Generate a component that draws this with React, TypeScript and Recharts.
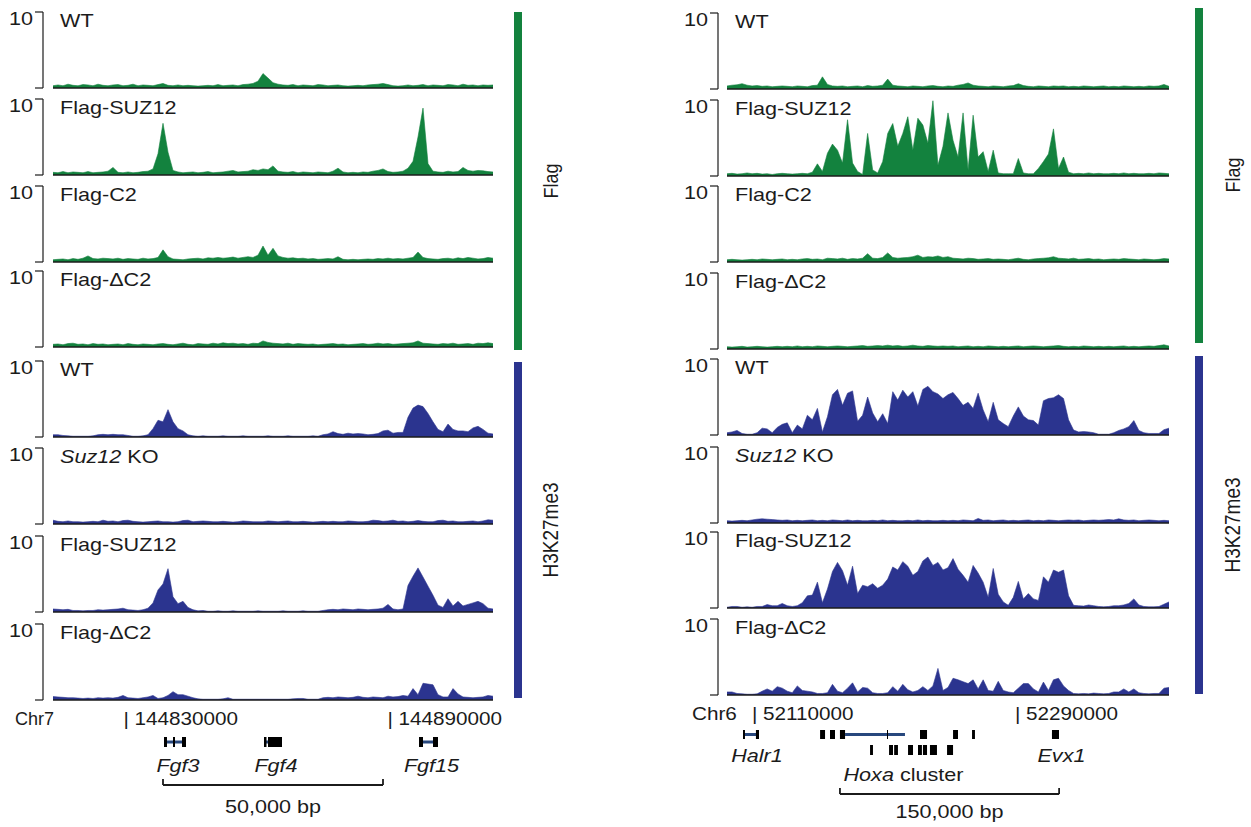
import React from "react";
import { AreaChart, Area, ComposedChart, XAxis, YAxis, ReferenceLine, ReferenceArea } from "recharts";

const GREEN = "#13823e";
const BLUE = "#2b348f";
const GENE_BLUE = "#27477d";
const INK = "#1b1b1b";
const FONT = '"Liberation Sans", Arial, Helvetica, sans-serif';
const STRETCH = 1.2;

// ChIP-seq signal per bin, scale 0-10. Fgf3/Fgf4/Fgf15 locus (Chr7)
const fgfFlagWT = [
  0.3, 0.4, 0.3, 0.5, 0.35, 0.3, 0.45, 0.4, 0.3, 0.5, 0.35,
  0.3, 0.4, 0.45, 0.3, 0.35, 0.5, 0.3, 0.4, 0.35, 0.3, 0.45,
  0.6, 0.35, 0.3, 0.4, 0.3, 0.35, 0.3, 0.25, 0.3, 0.35, 0.3,
  0.45, 0.3, 0.35, 0.4, 0.3, 0.45, 0.5, 0.6, 0.9, 1.9, 1.3,
  0.7, 0.5, 0.4, 0.35, 0.45, 0.3, 0.4, 0.35, 0.3, 0.45, 0.4,
  0.3, 0.35, 0.4, 0.3, 0.25, 0.3, 0.35, 0.3, 0.4, 0.45, 0.5,
  0.6, 0.45, 0.3, 0.25, 0.3, 0.4, 0.3, 0.35, 0.45, 0.3, 0.4,
  0.35, 0.3, 0.45, 0.4, 0.3, 0.5, 0.35, 0.4, 0.3, 0.4, 0.35,
  0.4,
];
const fgfFlagSUZ12 = [
  0.35, 0.3, 0.45, 0.3, 0.4, 0.35, 0.3, 0.45, 0.3, 0.35, 0.4,
  0.5, 1.0, 0.35, 0.3, 0.4, 0.3, 0.35, 0.45, 0.5, 0.8, 2.8,
  6.8, 3.0, 0.6, 0.4, 0.3, 0.35, 0.4, 0.3, 0.35, 0.45, 0.3,
  0.35, 0.4, 0.5, 0.6, 0.4, 0.45, 0.5, 0.7, 0.6, 0.8, 0.7,
  1.2, 0.5, 0.4, 0.35, 0.45, 0.3, 0.4, 0.35, 0.3, 0.4, 0.35,
  0.3, 0.5, 0.9, 0.4, 0.3, 0.35, 0.3, 0.4, 0.35, 0.5, 0.6,
  0.8, 0.45, 0.35, 0.4, 0.5, 0.9, 1.8, 5.0, 8.8, 1.5, 0.5,
  0.4, 0.35, 0.5, 0.4, 0.45, 1.0, 0.6, 0.5, 0.6, 0.55, 0.45,
  0.4,
];
const fgfFlagC2 = [
  0.3, 0.35, 0.4, 0.3, 0.45, 0.35, 0.5, 0.8, 0.45, 0.4, 0.5,
  0.45, 0.4, 0.5, 0.35, 0.45, 0.4, 0.35, 0.5, 0.4, 0.45, 0.6,
  1.6, 0.7, 0.4, 0.35, 0.3, 0.4, 0.45, 0.5, 0.4, 0.55, 0.5,
  0.6, 0.5, 0.55, 0.65, 0.5, 0.6, 0.7, 0.6, 0.9, 2.1, 0.9,
  1.8, 0.8, 0.6, 0.5, 0.55, 0.45, 0.5, 0.4, 0.45, 0.35, 0.4,
  0.45, 0.4, 0.7, 0.35, 0.3, 0.35, 0.3, 0.35, 0.4, 0.35, 0.45,
  0.4, 0.5, 0.4, 0.45, 0.4, 0.5, 0.6, 1.3, 0.6, 0.45, 0.4,
  0.35, 0.45, 0.5, 0.4, 0.55, 0.45, 0.6, 0.5, 0.4, 0.45, 0.6,
  0.5,
];
const fgfFlagDC2 = [
  0.35, 0.4, 0.3, 0.45, 0.5, 0.35, 0.4, 0.3, 0.45, 0.35, 0.4,
  0.3, 0.35, 0.4, 0.3, 0.45, 0.35, 0.3, 0.4, 0.35, 0.3, 0.4,
  0.45, 0.35, 0.3, 0.4, 0.5, 0.35, 0.3, 0.45, 0.4, 0.35, 0.5,
  0.4, 0.55, 0.45, 0.5, 0.4, 0.45, 0.35, 0.5, 0.45, 0.8, 0.6,
  0.5, 0.45, 0.4, 0.5, 0.35, 0.45, 0.4, 0.35, 0.4, 0.3, 0.35,
  0.4, 0.45, 0.35, 0.4, 0.3, 0.35, 0.4, 0.45, 0.35, 0.4, 0.5,
  0.4, 0.45, 0.35, 0.4, 0.45, 0.5, 0.55, 0.8, 0.5, 0.45, 0.4,
  0.35, 0.45, 0.4, 0.5, 0.35, 0.4, 0.45, 0.35, 0.5, 0.45, 0.55,
  0.45,
];
const fgfK27WT = [
  0.3, 0.3, 0.2, 0.15, 0.1, 0.1, 0.1, 0.1, 0.15, 0.3, 0.35,
  0.3, 0.35, 0.3, 0.3, 0.2, 0.1, 0.1, 0.15, 0.3, 1.1, 2.2,
  2.0, 3.6, 2.0, 1.1, 0.8, 0.3, 0.15, 0.1, 0.15, 0.1, 0.1,
  0.1, 0.15, 0.1, 0.1, 0.1, 0.15, 0.1, 0.1, 0.1, 0.1, 0.15,
  0.1, 0.1, 0.1, 0.15, 0.1, 0.1, 0.1, 0.1, 0.15, 0.1, 0.3,
  0.4, 0.7, 0.45, 0.35, 0.5, 0.4, 0.45, 0.4, 0.3, 0.35, 0.45,
  0.8, 0.9, 0.5, 0.6, 0.6, 2.6, 3.8, 4.2, 4.0, 3.1, 2.0,
  1.0, 0.7, 1.7, 1.0, 0.8, 0.8, 0.7, 1.2, 1.4, 1.0, 0.5,
  0.4,
];
const fgfK27KO = [
  0.5, 0.35, 0.3, 0.4, 0.3, 0.3, 0.25, 0.3, 0.35, 0.3, 0.5,
  0.35, 0.4, 0.3, 0.45, 0.5, 0.35, 0.3, 0.25, 0.3, 0.35, 0.4,
  0.3, 0.3, 0.25, 0.3, 0.45, 0.5, 0.3, 0.35, 0.4, 0.35, 0.3,
  0.3, 0.35, 0.3, 0.25, 0.3, 0.4, 0.35, 0.3, 0.3, 0.3, 0.4,
  0.35, 0.3, 0.35, 0.4, 0.3, 0.3, 0.35, 0.3, 0.25, 0.3, 0.35,
  0.3, 0.35, 0.3, 0.3, 0.4, 0.35, 0.3, 0.3, 0.35, 0.5, 0.45,
  0.35, 0.4, 0.5, 0.35, 0.4, 0.3, 0.35, 0.45, 0.35, 0.3, 0.3,
  0.45, 0.5, 0.35, 0.4, 0.3, 0.3, 0.35, 0.4, 0.3, 0.4, 0.55,
  0.5,
];
const fgfK27SUZ12 = [
  0.4, 0.35, 0.3, 0.35, 0.2, 0.2, 0.15, 0.2, 0.2, 0.3, 0.25,
  0.3, 0.35, 0.4, 0.5, 0.3, 0.25, 0.2, 0.3, 0.5, 1.2, 2.9,
  3.7, 5.7, 2.0, 1.1, 1.4, 0.6, 0.3, 0.15, 0.2, 0.1, 0.1,
  0.15, 0.1, 0.1, 0.15, 0.1, 0.1, 0.1, 0.1, 0.15, 0.1, 0.1,
  0.1, 0.1, 0.15, 0.1, 0.1, 0.1, 0.15, 0.1, 0.1, 0.1, 0.2,
  0.3, 0.35, 0.3, 0.4, 0.35, 0.3, 0.4, 0.35, 0.3, 0.35, 0.4,
  0.5, 1.0, 0.4, 0.3, 0.4, 3.5, 4.7, 5.8, 4.6, 3.4, 2.2,
  0.9, 0.6, 1.75, 0.8, 1.4, 0.8, 1.0, 1.2, 1.4, 1.1, 0.5,
  0.4,
];
const fgfK27DC2 = [
  0.45, 0.4, 0.35, 0.3, 0.3, 0.25, 0.2, 0.25, 0.2, 0.3, 0.25,
  0.3, 0.25, 0.35, 0.6, 0.3, 0.25, 0.2, 0.3, 0.4, 0.6, 0.2,
  0.3, 0.6, 1.1, 0.7, 0.7, 0.5, 0.3, 0.15, 0.1, 0.1, 0.1,
  0.1, 0.15, 0.3, 0.1, 0.1, 0.1, 0.1, 0.1, 0.1, 0.1, 0.1,
  0.1, 0.1, 0.1, 0.1, 0.15, 0.2, 0.2, 0.1, 0.1, 0.1, 0.3,
  0.35, 0.3, 0.4, 0.35, 0.3, 0.35, 0.5, 0.35, 0.3, 0.4, 0.35,
  0.3, 0.5, 0.4, 0.45, 0.6, 0.5, 1.5, 0.7, 2.2, 2.1, 2.0,
  0.7, 0.4, 0.4, 1.5, 0.8, 0.4, 0.35, 0.3, 0.35, 0.4, 0.6,
  0.5,
];

// Hoxa locus (Chr6)
const hoxFlagWT = [
  0.4, 0.5, 0.55, 0.7, 0.5, 0.4, 0.45, 0.35, 0.4, 0.3, 0.35,
  0.4, 0.35, 0.3, 0.4, 0.35, 0.3, 0.45, 0.5, 1.6, 0.6, 0.4,
  0.35, 0.4, 0.3, 0.35, 0.4, 0.3, 0.45, 0.35, 0.4, 0.5, 1.3,
  0.5, 0.4, 0.35, 0.3, 0.4, 0.35, 0.3, 0.4, 0.45, 0.35, 0.3,
  0.4, 0.35, 0.5, 0.6, 0.8, 0.5, 0.4, 0.35, 0.3, 0.4, 0.35,
  0.3, 0.4, 0.45, 0.7, 0.45, 0.35, 0.3, 0.4, 0.35, 0.3, 0.4,
  0.35, 0.4, 0.3, 0.35, 0.3, 0.4, 0.35, 0.3, 0.35, 0.4, 0.3,
  0.35, 0.3, 0.4, 0.35, 0.3, 0.35, 0.3, 0.4, 0.35, 0.4, 0.6,
  0.35,
];
const hoxFlagSUZ12 = [
  0.3, 0.35, 0.25, 0.3, 0.4, 0.3, 0.35, 0.25, 0.3, 0.2, 0.3,
  0.35, 0.3, 0.25, 0.3, 0.35, 0.3, 0.5, 1.6, 0.6, 3.0, 4.2,
  3.4, 1.7, 7.4, 1.7, 0.6, 0.2, 5.6, 0.8, 0.4, 1.9, 5.6,
  6.9, 3.9, 5.6, 7.8, 3.4, 7.6, 6.7, 4.3, 9.9, 1.4, 3.9,
  8.3, 4.7, 2.5, 8.3, 0.8, 8.0, 2.5, 3.2, 0.6, 3.4, 0.4,
  0.3, 0.3, 0.3, 2.3, 0.4, 0.3, 0.3, 1.0, 1.9, 2.9, 6.2,
  1.0, 2.5, 0.5, 0.3, 0.35, 0.3, 0.4, 0.3, 0.35, 0.3, 0.3,
  0.35, 0.3, 0.4, 0.3, 0.35, 0.3, 0.3, 0.35, 0.3, 0.4, 0.35,
  0.3,
];
const hoxFlagC2 = [
  0.3, 0.35, 0.3, 0.25, 0.3, 0.35, 0.3, 0.4, 0.35, 0.3, 0.35,
  0.4, 0.3, 0.35, 0.3, 0.4, 0.45, 0.35, 0.4, 0.3, 0.5, 0.45,
  0.4, 0.5, 0.35, 0.45, 0.4, 0.5, 1.1, 0.5, 0.45, 0.6, 1.2,
  0.6, 0.5, 0.55, 0.6, 0.7, 0.9, 0.6, 0.7, 0.65, 0.8, 0.6,
  0.7, 0.5, 0.45, 0.4, 0.5, 0.45, 0.35, 0.4, 0.45, 0.35, 0.4,
  0.35, 0.3, 0.4, 0.5, 0.35, 0.3, 0.4, 0.45, 0.5, 0.55, 0.7,
  0.5, 0.45, 0.4, 0.5, 0.35, 0.4, 0.45, 0.35, 0.4, 0.3, 0.35,
  0.4, 0.35, 0.45, 0.4, 0.35, 0.3, 0.4, 0.35, 0.3, 0.35, 0.45,
  0.4,
];
const hoxFlagDC2 = [
  0.3, 0.25, 0.3, 0.35, 0.25, 0.3, 0.35, 0.3, 0.25, 0.3, 0.35,
  0.3, 0.35, 0.3, 0.4, 0.3, 0.35, 0.3, 0.4, 0.35, 0.3, 0.35,
  0.4, 0.35, 0.3, 0.35, 0.4, 0.45, 0.35, 0.4, 0.45, 0.4, 0.5,
  0.4, 0.45, 0.35, 0.4, 0.5, 0.4, 0.35, 0.45, 0.4, 0.35, 0.4,
  0.35, 0.4, 0.3, 0.35, 0.4, 0.3, 0.35, 0.3, 0.4, 0.35, 0.3,
  0.35, 0.3, 0.35, 0.4, 0.3, 0.35, 0.4, 0.35, 0.3, 0.35, 0.4,
  0.45, 0.35, 0.3, 0.35, 0.3, 0.4, 0.35, 0.3, 0.35, 0.3, 0.35,
  0.3, 0.35, 0.4, 0.3, 0.35, 0.3, 0.35, 0.4, 0.35, 0.45, 0.55,
  0.4,
];
const hoxK27WT = [
  0.3, 0.4, 0.6, 0.2, 0.1, 0.1, 0.3, 0.9, 0.8, 0.3, 1.0,
  1.4, 1.6, 0.3, 1.3, 0.8, 2.6, 2.0, 3.5, 0.4, 2.4, 5.3,
  6.0, 3.9, 5.5, 5.8, 1.8, 2.6, 5.0, 2.9, 1.75, 2.8, 1.5,
  5.7, 4.6, 5.9, 5.0, 5.7, 3.8, 6.0, 6.4, 5.7, 5.4, 4.8,
  5.3, 5.6, 4.8, 3.9, 4.3, 3.5, 5.5, 3.3, 1.75, 4.3, 2.0,
  1.5, 1.1, 2.5, 3.7, 2.5, 2.0, 1.9, 1.3, 4.5, 4.8, 4.9,
  5.3, 4.8, 2.0, 0.65, 0.4, 0.45, 0.4, 0.3, 0.1, 0.1, 0.1,
  0.3, 0.6, 0.8, 1.1, 1.9, 0.6, 0.3, 0.2, 0.2, 0.2, 0.7,
  0.9,
];
const hoxK27KO = [
  0.3, 0.25, 0.3, 0.35, 0.3, 0.4, 0.5, 0.55, 0.5, 0.45, 0.4,
  0.35, 0.4, 0.3, 0.35, 0.3, 0.35, 0.4, 0.3, 0.35, 0.3, 0.4,
  0.35, 0.3, 0.4, 0.3, 0.35, 0.3, 0.3, 0.35, 0.3, 0.4, 0.3,
  0.35, 0.3, 0.3, 0.35, 0.3, 0.4, 0.3, 0.35, 0.3, 0.3, 0.35,
  0.3, 0.35, 0.3, 0.4, 0.35, 0.3, 0.6, 0.35, 0.4, 0.3, 0.35,
  0.4, 0.3, 0.35, 0.3, 0.35, 0.4, 0.3, 0.35, 0.3, 0.4, 0.35,
  0.3, 0.35, 0.4, 0.35, 0.4, 0.3, 0.35, 0.4, 0.35, 0.4, 0.45,
  0.4, 0.55, 0.4, 0.35, 0.4, 0.3, 0.35, 0.4, 0.35, 0.3, 0.35,
  0.3,
];
const hoxK27SUZ12 = [
  0.1, 0.2, 0.2, 0.1, 0.15, 0.1, 0.2, 0.2, 0.45, 0.3, 0.3,
  0.6, 0.3, 0.2, 0.3, 0.7, 1.6, 1.7, 3.4, 0.7, 2.5, 4.8,
  6.0, 4.9, 3.0, 5.5, 1.9, 3.0, 2.8, 3.2, 2.6, 3.0, 3.8,
  5.4, 5.0, 6.1, 5.5, 4.3, 4.8, 6.2, 6.7, 5.6, 6.0, 5.0,
  5.3, 6.5, 5.1, 4.3, 3.4, 5.6, 4.6, 3.4, 1.4, 5.2, 1.8,
  0.8, 0.35, 1.4, 3.5, 1.2, 1.9, 1.2, 1.0, 4.1, 3.4, 5.0,
  4.7, 5.0, 1.6, 0.35, 0.3, 0.25, 0.4, 0.3, 0.2, 0.15, 0.2,
  0.3, 0.3, 0.4, 0.6, 1.2, 0.4, 0.2, 0.15, 0.15, 0.2, 0.5,
  0.8,
];
const hoxK27DC2 = [
  0.4, 0.4, 0.2, 0.15, 0.1, 0.1, 0.15, 0.5, 0.8, 0.5, 1.1,
  0.9, 0.5, 0.3, 1.2, 0.6, 0.5, 0.4, 0.2, 0.2, 0.3, 1.4,
  0.5, 0.3, 0.9, 1.6, 0.4, 1.0, 0.9, 0.3, 0.2, 0.2, 0.3,
  1.1, 0.5, 1.4, 0.7, 0.4, 0.6, 1.1, 0.6, 1.2, 3.5, 0.6,
  1.0, 2.2, 2.0, 1.75, 1.5, 2.0, 0.8, 2.0, 0.6, 0.5, 1.8,
  0.6, 0.4, 0.3, 0.9, 1.5, 1.5, 0.8, 0.4, 1.7, 0.6, 2.0,
  2.2, 1.2, 0.6, 0.2, 0.15, 0.2, 0.15, 0.25, 0.2, 0.15, 0.2,
  0.4, 0.4, 0.8, 0.4, 0.8, 0.3, 0.2, 0.15, 0.2, 0.2, 0.9,
  1.0,
];

const flagNames = ["WT", "Flag-SUZ12", "Flag-C2", "Flag-\u0394C2"];
const k27Names = ["WT", "Suz12 KO", "Flag-SUZ12", "Flag-\u0394C2"];

// genome annotation, Chr7
const fgfWindow = [144814000, 144914000];
const fgfTicks = [144830000, 144890000];
const fgfGenes = [
  { name: "Fgf3", start: 144839230, end: 144844230 },
  { name: "Fgf4", start: 144861955, end: 144866045 },
  { name: "Fgf15", start: 144897180, end: 144901500 },
];
const fgfExons = [
  [144839230, 144839910], [144841270, 144841730], [144843320, 144844230],
  [144861955, 144862520], [144862860, 144866045],
  [144897180, 144898090], [144900360, 144901500],
];
const fgfScaleBar = [144839000, 144889000];

// genome annotation, Chr6
const hoxWindow = [52092900, 52395400];
const hoxTicks = [52110000, 52290000];
const hoxGenes = [
  { name: "Halr1", start: 52103850, end: 52114800 },
  { name: "Evx1", start: 52315300, end: 52320100 },
];
const hoxGeneExons = [
  [52103850, 52105200], [52112700, 52114800], [52315300, 52320100],
];
const hoxaLine = [52173700, 52214700];
const hoxaRow1 = [
  [52156600, 52160000], [52163400, 52166800], [52170200, 52173700], [52202400, 52203100],
  [52225000, 52229800], [52247600, 52251000], [52260600, 52262600],
];
const hoxaRow2 = [
  [52190800, 52192800], [52203800, 52206500], [52207300, 52209900], [52216800, 52220200],
  [52223600, 52226300], [52227000, 52229800], [52231800, 52236600], [52243500, 52247600],
];
const hoxaSpan = [52156600, 52262600];
const hoxScaleBar = [52170200, 52320200];

const leftTops = [12, 99, 186, 271, 361, 448, 536, 624];
const rightTops = [13, 100, 186, 273, 359, 447, 532, 619];

function renderMaxTick(p: any) {
  if (p.payload.value !== 10) return null;
  return (
    <text transform={`translate(${p.x},${p.y + 13}) scale(${STRETCH},1)`} textAnchor="end" fontSize={18} fontFamily={FONT} fill={INK}>
      10
    </text>
  );
}

function renderCoordTick(p: any) {
  return (
    <text transform={`translate(${p.x},${p.y - 1}) scale(1.15,1)`} fontSize={18} fontFamily={FONT} fill={INK}>
      {`| ${p.payload.value}`}
    </text>
  );
}

// label content: centred on the area, baseline at its bottom edge
const textBelow = (content: React.ReactNode, dx = 0) => (p: any) => {
  const vb = p.viewBox || { x: 0, y: 0, width: 0, height: 0 };
  return (
    <text
      transform={`translate(${vb.x + vb.width / 2 + dx},${vb.y + vb.height}) scale(${STRETCH},1)`}
      textAnchor="middle"
      fontSize={18}
      fontFamily={FONT}
      fill={INK}
    >
      {content}
    </text>
  );
};

function SignalTrack({ values, color, left, width, pad, top }: any) {
  const rows = values.map((v: number, i: number) => ({ i, v }));
  const last = values.length - 1;
  return (
    <div style={{ position: "absolute", left, top: top - 6 }}>
      <AreaChart width={width} height={88} data={rows} margin={{ top: 6, right: 7, bottom: 6, left: 0 }}>
        <XAxis dataKey="i" type="number" domain={[0, last]} hide padding={{ left: pad, right: 0 }} />
        <YAxis
          type="number"
          domain={[0, 10]}
          ticks={[0, 10]}
          interval={0}
          width={43}
          tickSize={8}
          tickMargin={2}
          axisLine={{ stroke: INK, strokeWidth: 1.2 }}
          tickLine={{ stroke: INK, strokeWidth: 1.2 }}
          tick={renderMaxTick}
        />
        <Area
          type="linear"
          dataKey="v"
          stroke={color}
          strokeWidth={0.6}
          fill={color}
          fillOpacity={1}
          dot={false}
          activeDot={false}
          isAnimationActive={false}
        />
        <ReferenceLine segment={[{ x: 0, y: 0 }, { x: last, y: 0 }]} stroke={INK} strokeWidth={1.5} />
      </AreaChart>
    </div>
  );
}

function LocusChart({ left, top, width, height, marginLeft, marginRight, domain, ticks, children }: any) {
  const plotH = height - 26;
  return (
    <div style={{ position: "absolute", left, top }}>
      <ComposedChart
        width={width}
        height={height}
        data={[{ pos: domain[0] }, { pos: domain[1] }]}
        margin={{ top: 0, right: marginRight, bottom: 0, left: marginLeft }}
      >
        <XAxis
          dataKey="pos"
          type="number"
          domain={domain}
          orientation="top"
          height={26}
          ticks={ticks}
          interval={0}
          axisLine={false}
          tickLine={false}
          tickSize={0}
          tickMargin={0}
          tick={renderCoordTick}
          allowDataOverflow
        />
        <YAxis type="number" domain={[0, plotH]} reversed hide allowDataOverflow />
        {children}
      </ComposedChart>
    </div>
  );
}

function block(key: string, s: number, e: number, y1: number, y2: number, fill: string) {
  return <ReferenceArea key={key} x1={s} x2={e} y1={y1} y2={y2} fill={fill} fillOpacity={1} stroke="none" />;
}

function TrackName({ name, x, y }: any) {
  const parts = name === "Suz12 KO"
    ? [<tspan key="a" fontStyle="italic">Suz12</tspan>, <tspan key="b"> KO</tspan>]
    : name;
  return (
    <text transform={`translate(${x},${y}) scale(${STRETCH},1)`} fontSize={18} fontFamily={FONT} fill={INK}>
      {parts}
    </text>
  );
}

function SideLabel({ text, x, y, size }: any) {
  return (
    <text transform={`translate(${x},${y}) rotate(-90) scale(1,1.15)`} textAnchor="middle" fontSize={size} fontFamily={FONT} fill={INK}>
      {text}
    </text>
  );
}

export default function App() {
  const leftSeries = [fgfFlagWT, fgfFlagSUZ12, fgfFlagC2, fgfFlagDC2, fgfK27WT, fgfK27KO, fgfK27SUZ12, fgfK27DC2];
  const rightSeries = [hoxFlagWT, hoxFlagSUZ12, hoxFlagC2, hoxFlagDC2, hoxK27WT, hoxK27KO, hoxK27SUZ12, hoxK27DC2];
  const names = [...flagNames, ...k27Names];

  return (
    <div style={{ position: "relative", width: 1251, height: 827, background: "#fff", overflow: "hidden" }}>
      <style>{"body{margin:0}"}</style>

      {leftSeries.map((s, k) => (
        <SignalTrack key={"L" + k} values={s} color={k < 4 ? GREEN : BLUE} left={0} width={500} pad={10} top={leftTops[k]} />
      ))}
      {rightSeries.map((s, k) => (
        <SignalTrack key={"R" + k} values={s} color={k < 4 ? GREEN : BLUE} left={675} width={501} pad={9} top={rightTops[k]} />
      ))}

      <LocusChart left={0} top={700} width={530} height={127} marginLeft={53} marginRight={37} domain={fgfWindow} ticks={fgfTicks}>
        {fgfGenes.map((g) => block("fl" + g.name, g.start, g.end, 14.5, 17.5, GENE_BLUE))}
        {fgfExons.map(([s, e], k) => block("fe" + k, s, e, 11, 21, "#000"))}
        {fgfGenes.map((g) => (
          <ReferenceArea
            key={"fn" + g.name}
            x1={g.start}
            x2={g.end}
            y1={30}
            y2={46}
            fill="none"
            fillOpacity={0}
            stroke="none"
            label={{ content: textBelow(<tspan fontStyle="italic">{g.name}</tspan>, 3) }}
          />
        ))}
        <ReferenceLine segment={[{ x: fgfScaleBar[0], y: 59 }, { x: fgfScaleBar[1], y: 59 }]} stroke={INK} strokeWidth={1.8} />
        <ReferenceLine segment={[{ x: fgfScaleBar[0], y: 53 }, { x: fgfScaleBar[0], y: 59 }]} stroke={INK} strokeWidth={1.8} />
        <ReferenceLine segment={[{ x: fgfScaleBar[1], y: 53 }, { x: fgfScaleBar[1], y: 59 }]} stroke={INK} strokeWidth={1.8} />
        <ReferenceArea x1={fgfScaleBar[0]} x2={fgfScaleBar[1]} y1={70} y2={87} fill="none" fillOpacity={0} stroke="none" label={{ content: textBelow("50,000 bp") }} />
      </LocusChart>

      <LocusChart left={675} top={695} width={500} height={132} marginLeft={52} marginRight={6} domain={hoxWindow} ticks={hoxTicks}>
        {hoxGenes.map((g) => block("hl" + g.name, g.start, g.end, 12, 15, GENE_BLUE))}
        {block("hoxaLine", hoxaLine[0], hoxaLine[1], 12, 15, GENE_BLUE)}
        {hoxGeneExons.map(([s, e], k) => block("he" + k, s, e, 9, 18, "#000"))}
        {hoxaRow1.map(([s, e], k) => block("h1" + k, s, e, 9, 18, "#000"))}
        {hoxaRow2.map(([s, e], k) => block("h2" + k, s, e, 24, 34, "#000"))}
        {hoxGenes.map((g) => (
          <ReferenceArea
            key={"hn" + g.name}
            x1={g.start}
            x2={g.end}
            y1={28}
            y2={41}
            fill="none"
            fillOpacity={0}
            stroke="none"
            label={{ content: textBelow(<tspan fontStyle="italic">{g.name}</tspan>, 6) }}
          />
        ))}
        <ReferenceArea
          x1={hoxaSpan[0]}
          x2={hoxaSpan[1]}
          y1={46}
          y2={60}
          fill="none"
          fillOpacity={0}
          stroke="none"
          label={{ content: textBelow([<tspan key="a" fontStyle="italic">Hoxa</tspan>, <tspan key="b"> cluster</tspan>], 6) }}
        />
        <ReferenceLine segment={[{ x: hoxScaleBar[0], y: 73 }, { x: hoxScaleBar[1], y: 73 }]} stroke={INK} strokeWidth={1.8} />
        <ReferenceLine segment={[{ x: hoxScaleBar[0], y: 67 }, { x: hoxScaleBar[0], y: 73 }]} stroke={INK} strokeWidth={1.8} />
        <ReferenceLine segment={[{ x: hoxScaleBar[1], y: 67 }, { x: hoxScaleBar[1], y: 73 }]} stroke={INK} strokeWidth={1.8} />
        <ReferenceArea x1={hoxScaleBar[0]} x2={hoxScaleBar[1]} y1={80} y2={97} fill="none" fillOpacity={0} stroke="none" label={{ content: textBelow("150,000 bp") }} />
      </LocusChart>

      <svg width={1251} height={827} style={{ position: "absolute", left: 0, top: 0, pointerEvents: "none" }}>
        {names.map((n, k) => <TrackName key={"ln" + k} name={n} x={60} y={leftTops[k] + 15} />)}
        {names.map((n, k) => <TrackName key={"rn" + k} name={n} x={735} y={rightTops[k] + 15} />)}

        <text x={15} y={725} fontSize={18} fontFamily={FONT} fill={INK}>Chr7</text>
        <text transform="translate(692,720) scale(1.15,1)" fontSize={18} fontFamily={FONT} fill={INK}>Chr6</text>

        <rect x={514} y={12} width={8} height={338} fill={GREEN} />
        <rect x={514} y={362} width={8} height={336} fill={BLUE} />
        <rect x={1195} y={8} width={8} height={335} fill={GREEN} />
        <rect x={1195} y={356} width={8} height={338} fill={BLUE} />

        <SideLabel text="Flag" x={558} y={181} size={18} />
        <SideLabel text="H3K27me3" x={558} y={530} size={19} />
        <SideLabel text="Flag" x={1240} y={175} size={18} />
        <SideLabel text="H3K27me3" x={1240} y={525} size={19} />
      </svg>
    </div>
  );
}
